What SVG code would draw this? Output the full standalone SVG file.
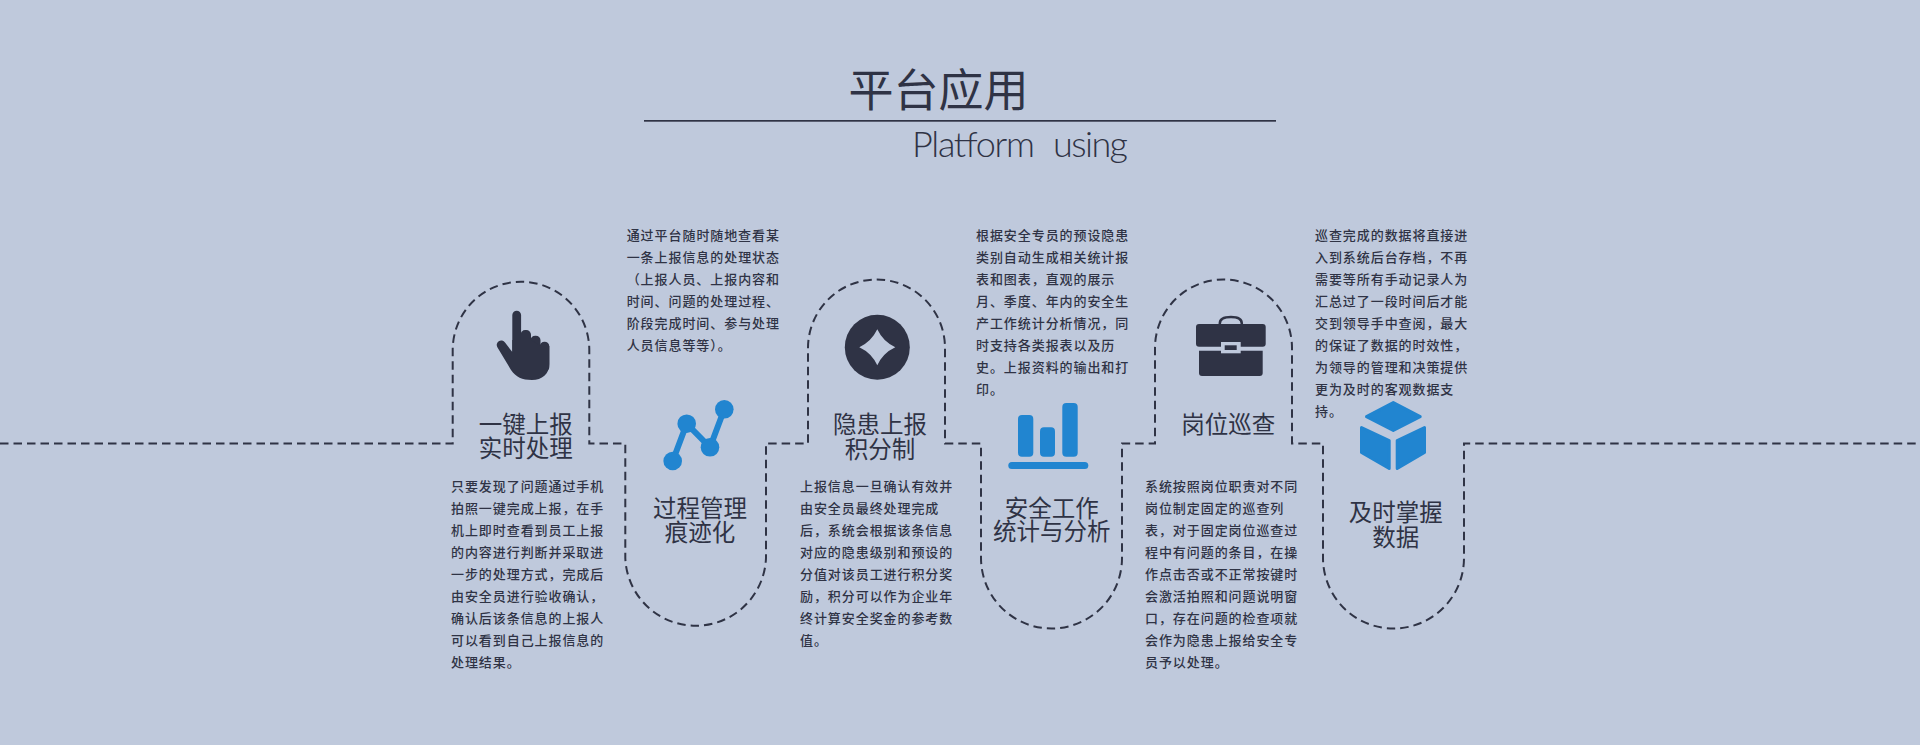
<svg xmlns="http://www.w3.org/2000/svg" width="1920" height="745" viewBox="0 0 1920 745">
<style>
text{font-family:"Noto Sans CJK SC","Noto Sans",sans-serif;fill:#2f3345}
.t{font-size:23.5px;text-anchor:middle}
.d{font-size:13px;letter-spacing:.93px;font-weight:500}
.dk{fill:#2f3345}
.bl{fill:#2185d0}
</style>
<rect width="1920" height="745" fill="#bfc9dc"/>
<g id="header">
<text x="938.500" y="107" style="font-size:45px;text-anchor:middle">平台应用</text>
<rect x="644" y="120" width="632" height="1.700" class="dk"/>
<text style="font-family:Lato,sans-serif;font-weight:300;font-size:36px"><tspan x="912" y="157" textLength="123" lengthAdjust="spacing">Platform</tspan><tspan x="1053" y="157" textLength="75" lengthAdjust="spacing">using</tspan></text>
</g>
<g id="connectors">
<path fill="none" stroke="#2f3345" stroke-width="2" stroke-dasharray="8.500 5" d="M0 443.500H452.700V350A68.300 68.300 0 0 1 589.300 350V443.500H625.300V558A70.400 70.400 0 0 0 766 558V443.500H808V348A68.500 68.500 0 0 1 945 348V443.500H981V558A70.500 70.500 0 0 0 1122 558V443.500H1155V348A68.500 68.500 0 0 1 1292 348V443.500H1323V558A70.500 70.500 0 0 0 1464 558V443.500H1920"/>
</g>
<g id="node-report">
<g class="dk">
<rect x="512.300" y="310.700" width="8.800" height="50" rx="4.400"/>
<rect x="520.500" y="330" width="10.500" height="30" rx="4.700"/>
<rect x="530.500" y="335.700" width="10" height="30" rx="4.700"/>
<rect x="539.800" y="341.700" width="9.500" height="30" rx="4.700"/>
<path d="M512.300 352V340H531L540.500 346H549.300V364C549.300 374 542 380 532 380C522 380 516 377 511 370L497.500 347.500A4.500 4.500 0 0 1 505 342.500Z"/>
</g>
<text class="t" x="525.700" y="432.500">一键上报</text>
<text class="t" x="525.700" y="456.500">实时处理</text>
<text class="d"><tspan x="451" y="490.500">只要发现了问题通过手机</tspan><tspan x="451" y="512.500">拍照一键完成上报，在手</tspan><tspan x="451" y="534.500">机上即时查看到员工上报</tspan><tspan x="451" y="556.500">的内容进行判断并采取进</tspan><tspan x="451" y="578.500">一步的处理方式，完成后</tspan><tspan x="451" y="600.500">由安全员进行验收确认，</tspan><tspan x="451" y="622.500">确认后该条信息的上报人</tspan><tspan x="451" y="644.500">可以看到自己上报信息的</tspan><tspan x="451" y="666.500">处理结果。</tspan></text>
</g>
<g id="node-process">
<path d="M672.700 461L686.700 423.700L710 447.300L724.300 409.300" fill="none" stroke="#2185d0" stroke-width="6"/>
<g class="bl"><circle cx="672.700" cy="461" r="9.300"/><circle cx="686.700" cy="423.700" r="9.300"/><circle cx="710" cy="447.300" r="9.300"/><circle cx="724.300" cy="409.300" r="9.300"/></g>
<text class="t" x="700" y="516.500">过程管理</text>
<text class="t" x="700" y="540.800">痕迹化</text>
<text class="d" x="626.700 640.600 654.600 668.500 682.400 696.400 710.300 724.200 738.100 752.100 766" y="240" style="letter-spacing:0">通过平台随时随地查看某</text>
<text class="d"><tspan x="626.700" y="262">一条上报信息的处理状态</tspan><tspan x="626.700" y="284">（上报人员、上报内容和</tspan><tspan x="626.700" y="306">时间、问题的处理过程、</tspan><tspan x="626.700" y="328">阶段完成时间、参与处理</tspan><tspan x="626.700" y="350">人员信息等等）。</tspan></text>
</g>
<g id="node-hazard">
<circle class="dk" cx="877.300" cy="347.300" r="32.500"/>
<path fill="#bfc9dc" d="M877.300 329.300Q883 341.500 895.300 347.300Q883 353 877.300 365.300Q871.500 353 859.300 347.300Q871.500 341.500 877.300 329.300Z"/>
<text class="t" x="880" y="432.500">隐患上报</text>
<text class="t" x="880" y="457.500">积分制</text>
<text class="d"><tspan x="800" y="490.500">上报信息一旦确认有效并</tspan><tspan x="800" y="512.500">由安全员最终处理完成</tspan><tspan x="800" y="534.500">后，系统会根据该条信息</tspan><tspan x="800" y="556.500">对应的隐患级别和预设的</tspan><tspan x="800" y="578.500">分值对该员工进行积分奖</tspan><tspan x="800" y="600.500">励，积分可以作为企业年</tspan><tspan x="800" y="622.500">终计算安全奖金的参考数</tspan><tspan x="800" y="644.500">值。</tspan></text>
</g>
<g id="node-stats">
<g class="bl">
<rect x="1018" y="415" width="15.300" height="41.700" rx="4"/>
<rect x="1040" y="427.300" width="15" height="29.400" rx="4"/>
<rect x="1062.300" y="403" width="15.400" height="53.700" rx="4"/>
<rect x="1008.300" y="462" width="80" height="7" rx="3.500"/>
</g>
<text class="t" x="1051.700" y="516.500">安全工作</text>
<text class="t" x="1051.700" y="540.200">统计与分析</text>
<text class="d"><tspan x="976" y="240">根据安全专员的预设隐患</tspan><tspan x="976" y="262">类别自动生成相关统计报</tspan><tspan x="976" y="284">表和图表，直观的展示</tspan><tspan x="976" y="306">月、季度、年内的安全生</tspan><tspan x="976" y="328">产工作统计分析情况，同</tspan><tspan x="976" y="350">时支持各类报表以及历</tspan><tspan x="976" y="372">史。上报资料的输出和打</tspan><tspan x="976" y="394">印。</tspan></text>
</g>
<g id="node-patrol">
<path fill="none" stroke="#2f3345" stroke-width="2.500" d="M1219.800 325V323.500C1219.800 318.500 1224 317 1231 317C1238 317 1241.800 318.500 1241.800 323.500V325"/>
<g class="dk">
<rect x="1196" y="324" width="69.700" height="22.700" rx="3"/>
<path d="M1199 350.700H1262.700V373A3 3 0 0 1 1259.700 376H1202A3 3 0 0 1 1199 373Z"/>
</g>
<rect x="1221" y="342" width="19.700" height="11.300" fill="#bfc9dc"/>
<rect class="dk" x="1224.700" y="345.300" width="12" height="4.700"/>
<text class="t" x="1228.300" y="432.500">岗位巡查</text>
<text class="d"><tspan x="1145" y="490.500">系统按照岗位职责对不同</tspan><tspan x="1145" y="512.500">岗位制定固定的巡查列</tspan><tspan x="1145" y="534.500">表，对于固定岗位巡查过</tspan><tspan x="1145" y="556.500">程中有问题的条目，在操</tspan><tspan x="1145" y="578.500">作点击否或不正常按键时</tspan><tspan x="1145" y="600.500">会激活拍照和问题说明窗</tspan><tspan x="1145" y="622.500">口，存在问题的检查项就</tspan><tspan x="1145" y="644.500">会作为隐患上报给安全专</tspan><tspan x="1145" y="666.500">员予以处理。</tspan></text>
</g>
<g id="node-data">
<g class="bl" stroke="#2185d0" stroke-width="3" stroke-linejoin="round">
<path d="M1393.300 402.500L1420.200 416.700L1393.300 430.500L1366.500 416.700Z"/>
<path d="M1361.500 427.500L1389.200 440.500V468.500L1361.500 452.500Z"/>
<path d="M1424.500 427.500L1397.200 440.500V468.500L1424.500 452.500Z"/>
</g>
<text class="t" x="1395.700" y="520.800">及时掌握</text>
<text class="t" x="1395.700" y="545.500">数据</text>
<text class="d"><tspan x="1315" y="240">巡查完成的数据将直接进</tspan><tspan x="1315" y="262">入到系统后台存档，不再</tspan><tspan x="1315" y="284">需要等所有手动记录人为</tspan><tspan x="1315" y="306">汇总过了一段时间后才能</tspan><tspan x="1315" y="328">交到领导手中查阅，最大</tspan><tspan x="1315" y="350">的保证了数据的时效性，</tspan><tspan x="1315" y="372">为领导的管理和决策提供</tspan><tspan x="1315" y="394">更为及时的客观数据支</tspan><tspan x="1315" y="416">持。</tspan></text>
</g>
</svg>
